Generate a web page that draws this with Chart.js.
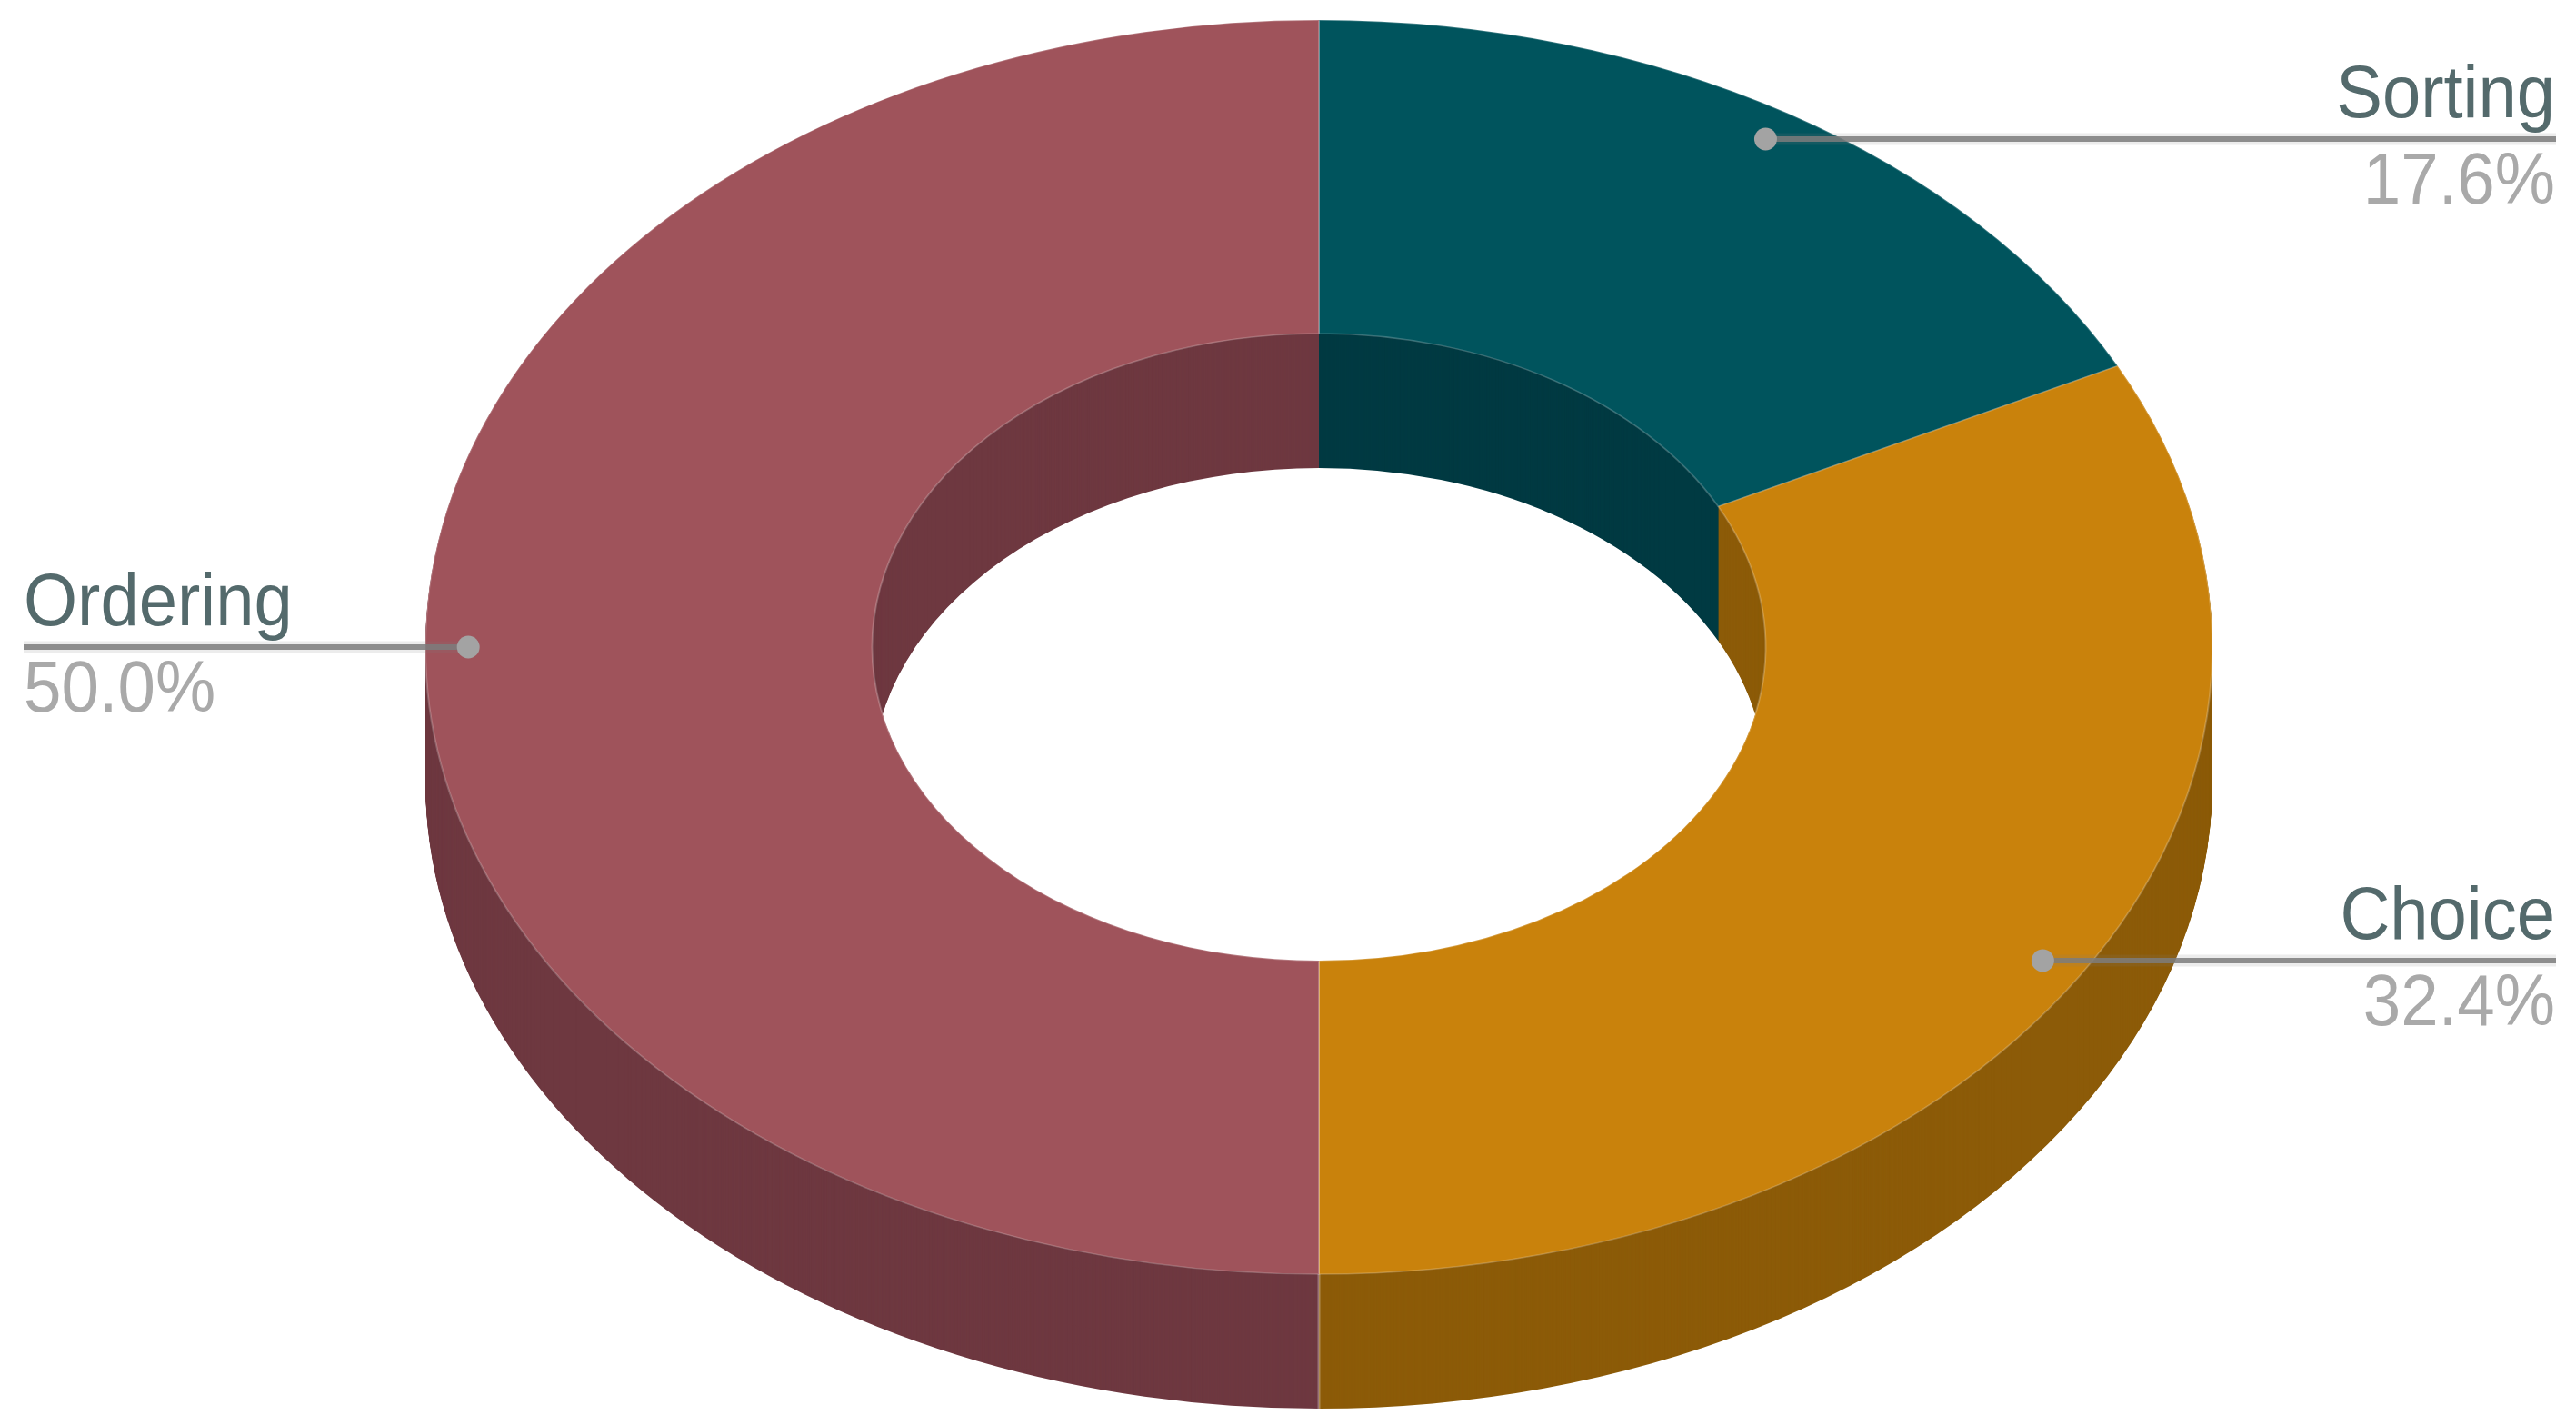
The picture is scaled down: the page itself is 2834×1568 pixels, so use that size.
<!DOCTYPE html>
<html>
<head>
<meta charset="utf-8">
<style>html,body{margin:0;padding:0;background:#fff}canvas{display:block}</style>
<script src="https://cdn.jsdelivr.net/npm/chart.js@4"></script>
</head>
<body>
<canvas id="c" width="2834" height="1568"></canvas>
<script>
const categories = ['Sorting', 'Choice', 'Ordering'];
const shares = [17.6, 32.4, 50.0];
const topColors = ['#00545D', '#C9820C', '#9F535B'];
const wallColors = ['#003A42', '#8C5B08', '#6E3840'];

const TILT = 690 / 983;
const DEPTH = 148;
const NAME_FONT = '76px "Liberation Sans"';
const SHARE_FONT = '74.5px "Liberation Sans"';
const TEXT_STRETCH = 1.07;

function tilt(ctx, arc, off) {
  ctx.translate(arc.x, arc.y + off);
  ctx.scale(1, TILT);
  ctx.translate(-arc.x, -arc.y);
}

function stretchedText(ctx, text, x, y) {
  ctx.save();
  ctx.translate(x, y);
  ctx.scale(1, TEXT_STRETCH);
  ctx.fillText(text, 0, 0);
  ctx.restore();
}

const ring3d = {
  id: 'ring3d',
  beforeDatasetsDraw(chart) {
    const ctx = chart.ctx;
    const arcs = chart.getDatasetMeta(0).data;
    for (let off = DEPTH; off >= 1; off--) {
      arcs.forEach((arc, i) => {
        const saved = arc.options;
        arc.options = Object.assign({}, saved, {backgroundColor: wallColors[i], borderWidth: 0});
        ctx.save();
        tilt(ctx, arc, off);
        arc.draw(ctx);
        ctx.restore();
        arc.options = saved;
      });
    }
    ctx.save();
    tilt(ctx, arcs[0], 0);
  },
  afterDatasetsDraw(chart) {
    const ctx = chart.ctx;
    ctx.restore();
    const arcs = chart.getDatasetMeta(0).data;
    const a0 = arcs[0];
    ctx.save();
    ctx.strokeStyle = 'rgba(255,255,255,0.3)';
    ctx.lineWidth = 3;
    ctx.beginPath();
    ctx.moveTo(a0.x, a0.y + a0.outerRadius * TILT);
    ctx.lineTo(a0.x, a0.y + a0.outerRadius * TILT + DEPTH);
    ctx.stroke();
    ctx.restore();
    arcs.forEach((arc, i) => {
      const mid = (arc.startAngle + arc.endAngle) / 2;
      const r = arc.outerRadius * 0.952;
      const px = arc.x + Math.cos(mid) * r;
      const py = arc.y + Math.sin(mid) * r * TILT;
      const right = px > arc.x;
      const edge = right ? 2812 : 26;
      ctx.save();
      ctx.strokeStyle = 'rgba(130,130,130,0.15)';
      ctx.lineWidth = 13;
      ctx.beginPath(); ctx.moveTo(px, py); ctx.lineTo(edge, py); ctx.stroke();
      ctx.strokeStyle = 'rgba(125,125,125,0.85)';
      ctx.lineWidth = 6;
      ctx.beginPath(); ctx.moveTo(px, py); ctx.lineTo(edge, py); ctx.stroke();
      ctx.fillStyle = '#A3A3A3';
      ctx.beginPath(); ctx.arc(px, py, 12.5, 0, Math.PI * 2); ctx.fill();
      ctx.textAlign = right ? 'right' : 'left';
      ctx.textBaseline = 'alphabetic';
      const tx = right ? edge - 1 : edge;
      ctx.font = NAME_FONT;
      ctx.fillStyle = '#546A6C';
      stretchedText(ctx, categories[i], tx, py - 24);
      ctx.font = SHARE_FONT;
      ctx.fillStyle = '#A9A9A9';
      stretchedText(ctx, shares[i].toFixed(1) + '%', tx, py + 71);
      ctx.restore();
    });
  }
};

new Chart(document.getElementById('c'), {
  type: 'doughnut',
  data: {
    labels: categories,
    datasets: [{
      data: shares,
      backgroundColor: topColors,
      borderColor: 'rgba(255,255,255,0.22)',
      borderWidth: 2,
      clip: false
    }]
  },
  options: {
    responsive: false,
    animation: false,
    radius: 983,
    cutout: '50%',
    layout: {padding: {left: 68, bottom: 144}},
    plugins: {legend: {display: false}, tooltip: {enabled: false}}
  },
  plugins: [ring3d]
});
</script>
</body>
</html>
